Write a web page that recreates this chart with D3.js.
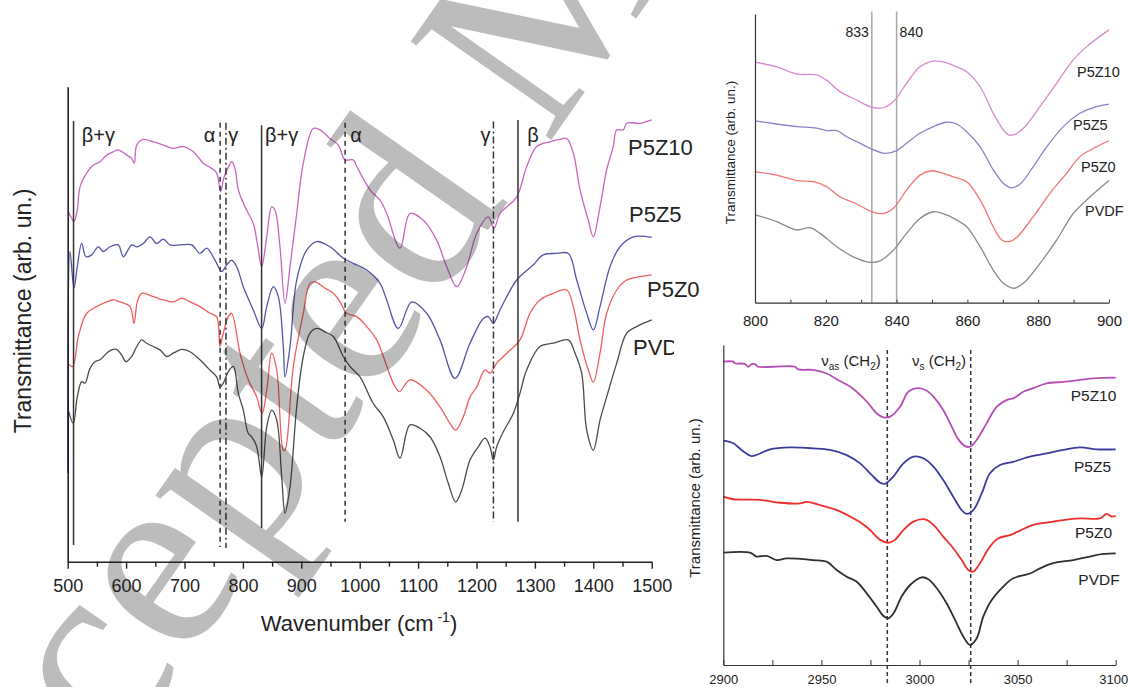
<!DOCTYPE html>
<html>
<head>
<meta charset="utf-8">
<script src="https://cdn.jsdelivr.net/npm/d3@7"></script>
<style>
  body { margin: 0; background: #fff; }
  svg { display: block; }
  text { font-family: "Liberation Sans", Arial, sans-serif; fill: #222; }
</style>
</head>
<body>
<svg id="fig" width="1129" height="687"></svg>
<script>
// ---------- FTIR spectra, 500–1500 cm-1 (wavenumber, transmittance in arb. units) ----------
const fullP5Z10 = [[501,73.7],[506.8,72.3],[510.8,71.6],[516.4,74.0],[521.1,78.9],[532.5,81.8],[543.8,83.5],[555.3,84.2],[566.8,85.6],[578.1,86.3],[586.6,86.7],[601,85.6],[609.6,84.9],[614,83.9],[618.2,87.7],[629.5,88.9],[646.6,88.4],[663.7,87.7],[680.8,87.0],[697.9,87.4],[715.1,86.3],[732.2,83.9],[746.6,82.8],[755.1,81.8],[762,77.9],[766.4,80.4],[774,82.8],[780.8,84.2],[786.5,82.8],[792.1,78.3],[803.6,74.7],[817.8,71.2],[824.7,67.0],[832.2,62.1],[840.8,68.4],[849.3,74.7],[855,74.0],[863.5,66.3],[872.1,54.4],[880.7,62.1],[892.1,73.3],[903.4,83.9],[920.5,91.2],[932,90.9],[949.1,89.1],[963.4,87.7],[974.8,84.6],[989,84.6],[994.9,83.2],[1017.6,78.3],[1034.8,76.1],[1046.2,73.3],[1069,66.0],[1086.1,73.3],[1108.9,71.9],[1131.8,67.7],[1149,62.1],[1166.1,57.9],[1183.2,62.1],[1200.3,69.1],[1220.2,72.6],[1229.9,70.2],[1240.2,73.3],[1268.8,76.8],[1286,83.2],[1303.1,87.4],[1325.9,88.4],[1342.6,88.9],[1354.5,89.1],[1365.8,86.0],[1377.3,78.3],[1391.4,71.9],[1400,68.4],[1411.5,74.7],[1422.9,82.5],[1434.2,87.4],[1440.1,90.9],[1451.4,90.9],[1457.2,92.3],[1480,92.3],[1500,93.0]];
const fullP5Z5 = [[500,18.7],[503.9,65.3],[510.8,57.6],[516.4,62.1],[524,67.0],[531.3,64.2],[541.1,64.6],[552.4,66.3],[561,65.3],[572.4,66.3],[586.6,66.7],[595.2,64.2],[609.6,66.7],[618.2,66.3],[629.5,67.0],[640.9,68.4],[652.4,67.0],[663.7,67.9],[675.2,66.7],[692.3,66.7],[712.3,66.7],[726.5,64.9],[738,66.0],[752.2,63.5],[763.7,61.1],[772.3,62.5],[780.8,63.5],[789.4,62.1],[800.7,57.9],[817.8,53.0],[832.2,49.1],[840.8,53.7],[852.1,57.9],[860.6,55.8],[869.2,45.3],[872.1,38.9],[880.7,45.3],[892.1,59.3],[909.2,65.6],[926.4,67.4],[949.1,66.3],[971.9,63.9],[989,62.8],[1012,61.4],[1034.8,58.6],[1046.2,55.1],[1066.1,49.1],[1089,54.7],[1114.7,52.3],[1137.5,46.7],[1163.2,38.6],[1188.9,46.0],[1211.6,51.2],[1220.2,51.6],[1228.8,50.2],[1240.2,53.0],[1268.8,59.3],[1297.3,62.5],[1314.4,64.6],[1337.3,64.9],[1357.2,64.9],[1371.6,59.3],[1388.7,52.3],[1400,48.8],[1411.5,53.7],[1428.6,62.1],[1445.7,66.3],[1468.5,68.4],[1500,68.3]];
const fullP5Z0 = [[500,41.8],[508.6,41.1],[518.2,47.4],[532.5,52.3],[549.7,53.7],[566.8,54.7],[578.1,55.1],[589.6,54.7],[606.7,53.7],[613.5,50.2],[619.2,54.7],[626.7,56.5],[646.6,55.8],[663.7,55.1],[680.8,54.7],[695.2,55.5],[709.4,54.7],[726.5,53.7],[743.7,52.3],[755.1,51.6],[760.8,45.3],[766.4,48.1],[775,51.6],[780.8,52.3],[795,43.9],[809.2,38.3],[823.6,34.7],[832.7,31.2],[840.8,36.1],[849.3,43.9],[857.9,40.4],[869.2,23.5],[872.1,23.5],[886.3,41.1],[903.4,52.3],[914.9,58.6],[923.5,58.9],[940.6,57.6],[954.8,56.5],[966.3,54.7],[977.7,52.3],[994.9,51.6],[1012,49.5],[1029.1,46.7],[1057.5,37.6],[1067.8,35.8],[1086.1,38.3],[1114.7,36.1],[1137.5,32.6],[1154.6,29.1],[1164.4,27.7],[1177.4,30.5],[1188.9,34.7],[1200.3,36.8],[1214.6,40.4],[1223.1,39.7],[1234.6,41.8],[1251.7,43.9],[1274.5,46.7],[1291.6,52.3],[1308.7,55.1],[1331.5,56.5],[1354.5,57.2],[1365.8,53.7],[1377.3,46.7],[1391.4,40.4],[1400,37.8],[1411.5,43.9],[1422.9,52.3],[1440.1,57.2],[1457.2,59.3],[1480,60.0],[1500,60.4]];
const fullPVDF = [[501,31.9],[509.6,29.1],[516.4,34.7],[524,37.9],[529.6,37.6],[538.2,40.7],[546.7,42.1],[555.3,42.5],[566.8,43.9],[575.3,44.6],[583.9,44.7],[592.5,43.5],[599.8,42.1],[609.6,43.2],[618.2,45.3],[626.7,46.7],[635.3,46.0],[646.6,45.3],[658,44.6],[669.5,43.2],[680.8,43.9],[695.2,44.7],[709.4,44.2],[726.5,42.5],[740.8,40.7],[755.1,38.9],[760.8,36.8],[766.4,37.6],[775,40.0],[783.6,41.1],[792.1,35.5],[800.7,31.9],[809.2,27.0],[815.1,26.3],[823.6,24.2],[832.2,17.9],[840.8,28.4],[849.3,31.9],[857.9,29.8],[866.4,17.9],[872.1,10.2],[880.7,15.8],[892.1,32.6],[903.4,43.2],[914.9,48.1],[926.4,49.1],[940.6,48.4],[954.8,47.4],[971.9,43.2],[983.4,41.1],[1000.5,38.9],[1023.3,33.3],[1040.4,30.5],[1057.5,25.6],[1069,21.8],[1086.1,28.8],[1103.3,28.1],[1120.4,26.3],[1137.5,22.1],[1151.7,16.5],[1164.4,12.6],[1174.7,15.1],[1188.9,21.4],[1203.1,24.2],[1214.6,26.0],[1223.1,24.2],[1228.8,21.4],[1234.6,24.2],[1246.1,27.4],[1263,31.2],[1274.5,35.5],[1286,40.4],[1308.7,45.3],[1331.5,46.0],[1357.2,46.7],[1368.7,43.9],[1380.1,39.7],[1388.7,27.7],[1400,23.5],[1411.5,29.8],[1422.9,34.7],[1440.1,41.8],[1457.2,48.1],[1474.3,49.5],[1500,50.9]];

// ---------- Zoom on 800–900 cm-1 ----------
const zoomP5Z10 = [[800,83.3],[806.1,81.7],[811.8,79.2],[817.4,78.9],[820.2,77.1],[824,73.1],[828.7,70.2],[833,67.7],[836.7,67.7],[839.5,70.2],[842.8,76.0],[846.6,81.7],[850.4,83.7],[854.1,83.1],[857,81.7],[859.8,80.0],[863.6,74.8],[867.3,65.6],[870.2,59.8],[871.6,58.1],[873,58.1],[875.8,60.4],[880.5,67.9],[885.2,76.0],[889.9,84.1],[893.7,88.7],[900,94.5]];
const zoomP5Z5 = [[800,63.0],[806.1,61.9],[811.8,61.0],[817.4,60.5],[820.2,59.6],[823.1,59.6],[825.9,57.5],[829.7,55.2],[833,53.2],[836.7,51.7],[840,52.7],[842.8,55.2],[846.6,58.7],[850.4,61.0],[854.1,62.5],[857,61.9],[859.8,59.2],[863.6,54.0],[867.3,46.0],[870.2,41.3],[872.5,39.8],[874.9,41.1],[878.6,47.1],[882.4,54.0],[887.1,61.0],[891.8,65.6],[896.5,67.9],[900,68.8]];
const zoomP5Z0 = [[800,45.4],[806.1,44.2],[811.8,42.3],[816.5,41.9],[820.2,40.2],[824,36.7],[828.7,34.2],[833,31.5],[836.3,30.9],[839.1,32.7],[842.8,39.0],[846.6,44.2],[849.9,45.7],[853.2,44.8],[856,43.6],[859.8,41.9],[863.6,35.6],[867.3,26.3],[869.7,21.7],[871.6,21.1],[873.9,22.6],[878.6,29.8],[883.3,37.9],[888,44.8],[891.8,50.6],[896.5,54.0],[900,56.1]];
const zoomPVDF = [[800,30.4],[806.1,28.1],[811.8,25.2],[815.5,26.0],[818.4,24.0],[823.1,19.4],[827.8,15.9],[832.5,14.0],[835.3,14.5],[839.1,18.2],[842.8,24.0],[846.6,29.2],[850.4,31.5],[854.1,30.4],[857,28.6],[859.8,26.3],[863.6,19.4],[867.3,11.3],[870.2,6.7],[873,5.0],[875.8,6.7],[880.5,13.6],[885.2,21.7],[889.9,30.9],[893.7,35.6],[900,42.3]];

// ---------- C–H stretching region, 2900–3100 cm-1 ----------
const chP5Z10 = [[2900,94.8],[2905.1,94.8],[2905.9,94.3],[2911,94.1],[2912.7,93.2],[2914.4,94.0],[2916.1,94.0],[2917.8,93.2],[2925.5,93.2],[2936.5,93.2],[2938.2,92.4],[2945.9,92.2],[2952.7,91.1],[2957.8,89.3],[2964.6,87.0],[2969.7,84.4],[2973.9,81.8],[2978.2,78.6],[2981.6,77.4],[2985,77.6],[2990.1,80.7],[2994.3,85.4],[2999.4,86.5],[3003.7,85.7],[3007.1,83.9],[3012.1,79.7],[3016.4,74.5],[3019.8,70.5],[3023.2,68.4],[3025.7,68.2],[3029.1,70.3],[3034.2,75.5],[3039.3,80.7],[3045.3,83.0],[3047.8,83.3],[3052.9,85.4],[3058,86.5],[3064.8,88.0],[3073.3,88.5],[3081.8,89.1],[3088.6,89.6],[3100,89.8]];
const chP5Z5 = [[2900,70.1],[2905.1,69.3],[2909.3,67.2],[2914.4,65.3],[2918.7,66.1],[2923.8,67.4],[2934,68.0],[2945.9,67.7],[2954.4,67.2],[2962.9,65.6],[2969.7,63.0],[2975.6,59.4],[2979.9,57.0],[2982.4,56.6],[2986.7,58.9],[2991.8,63.0],[2996.9,65.1],[3002,64.6],[3007.1,62.0],[3012.1,57.8],[3017.2,52.6],[3021.5,48.4],[3024,47.2],[3027.4,48.4],[3031.7,53.6],[3035.9,59.9],[3041,62.5],[3047.8,63.5],[3056.3,65.1],[3064.8,66.1],[3073.3,67.2],[3081.8,68.0],[3090.3,67.4],[3100,67.4]];
const chP5Z0 = [[2900,52.6],[2905.1,51.8],[2918.7,51.6],[2928.9,50.7],[2939.1,50.5],[2942.5,51.0],[2949.3,50.0],[2957.8,48.4],[2964.6,46.4],[2970.5,44.3],[2974.8,42.2],[2979.9,39.1],[2984.1,38.2],[2987.5,39.1],[2991.8,42.2],[2996.9,44.8],[3002.8,45.5],[3007.1,43.8],[3012.1,40.1],[3017.2,36.5],[3021.5,32.8],[3024.9,29.7],[3027.4,29.2],[3030.8,31.8],[3035.9,37.0],[3040.2,39.6],[3046.1,40.6],[3051.2,42.0],[3058,43.8],[3064.8,44.5],[3073.3,45.3],[3081.8,45.8],[3092,45.8],[3095.4,47.2],[3098,46.4],[3100,46.6]];
const chPVDF = [[2900,35.1],[2913.6,35.1],[2917,33.9],[2922.1,34.1],[2927.2,32.8],[2932.3,33.3],[2945.9,32.8],[2952.7,32.3],[2957.8,29.7],[2962.9,27.6],[2968,26.0],[2973.1,22.4],[2978.2,18.2],[2981.6,15.3],[2984.1,14.6],[2986.7,16.1],[2990.9,21.4],[2995.2,25.0],[3001.1,27.4],[3004.5,26.8],[3008.8,24.0],[3013.8,19.3],[3018.1,14.1],[3022.3,8.9],[3025.7,6.3],[3029.1,8.3],[3032.5,15.1],[3036.8,20.3],[3042.7,24.5],[3047.8,27.1],[3056.3,28.6],[3061.4,30.2],[3068.2,31.8],[3078.4,32.8],[3086.9,33.9],[3093.7,34.7],[3100,34.9]];

// ---------- Axis ticks and labels ----------
const fullMajorTicks = [500, 600, 700, 800, 900, 1000, 1100, 1200, 1300, 1400, 1500];
const fullMinorTicks = [550, 650, 750, 850, 950, 1050, 1150, 1250, 1350, 1450];
const zoomMajorTicks = [800, 820, 840, 860, 880, 900];
const zoomMinorTicks = [810, 830, 850, 870, 890];
const chMajorTicks = [2900, 2950, 3000, 3050, 3100];
const chMinorTicks = [2925, 2975, 3025, 3075];

const sampleNames = ["P5Z10", "P5Z5", "P5Z0", "PVDF"];

// Band assignments marked on the full spectrum
const bandWavenumbers = [510, 761, 771, 832, 975, 1229, 1271];
const bandStyles = ["solid", "dash", "dashdot", "solid", "dash", "dashdot", "solid"];
const bandLabels = ["β+γ", "α", "γ", "β+γ", "α", "γ", "β"];
const bandLabelWavenumbers = [524, 733, 775, 838, 984, 1207, 1287];

const zoomMarkers = [833, 840];
const chMarkers = [2983.6, 3026.1];

// ---------- Drawing ----------
const svg = d3.select("#fig");
const dashFor = { solid: null, dash: "5,4", dashdot: "7,3,2,3" };

function drawLine(g, x, y, data, color, width) {
  g.append("path")
    .datum(data)
    .attr("fill", "none")
    .attr("stroke", color)
    .attr("stroke-width", width)
    .attr("stroke-linejoin", "round")
    .attr("d", d3.line().x(d => x(d[0])).y(d => y(d[1])).curve(d3.curveCatmullRom.alpha(0.5)));
}

// ===== Full spectrum panel =====
const xF = d3.scaleLinear().domain([500, 1500]).range([67.7, 651.7]);
const yF = d3.scaleLinear().domain([0, 100]).range([561.7, 86.7]);
const gF = svg.append("g");

const fullColors = ["#c865c0", "#5454aa", "#f25c5c", "#4a4a4a"];
[fullP5Z10, fullP5Z5, fullP5Z0, fullPVDF].forEach((s, i) => drawLine(gF, xF, yF, s, fullColors[i], 1.3));

// vertical band lines
const bandTop = [92.8, 92.4, 92.4, 91.9, 92.4, 92.7, 93.0];
const bandBottom = [3.5, 3.1, 2.9, 7.1, 8.4, 8.4, 8.4];
bandWavenumbers.forEach((w, i) => {
  gF.append("line")
    .attr("x1", xF(w)).attr("x2", xF(w))
    .attr("y1", yF(bandTop[i])).attr("y2", yF(bandBottom[i]))
    .attr("stroke", "#333").attr("stroke-width", 1.5)
    .attr("stroke-dasharray", dashFor[bandStyles[i]]);
});
bandLabels.forEach((t, i) => {
  gF.append("text")
    .attr("x", xF(bandLabelWavenumbers[i])).attr("y", 142)
    .attr("font-size", 20).attr("fill", "#222")
    .text(t);
});

// axes
const axF = gF.append("g").attr("transform", `translate(0,${yF(0)})`)
  .call(d3.axisBottom(xF).tickValues(fullMajorTicks).tickSize(7).tickSizeOuter(0).tickPadding(11).tickFormat(d3.format("d")));
gF.append("g").attr("transform", `translate(0,${yF(0)})`)
  .call(d3.axisBottom(xF).tickValues(fullMinorTicks).tickSize(5).tickFormat(""))
  .call(g => g.select(".domain").remove());
gF.append("g").attr("transform", `translate(${xF(500)},0)`)
  .call(d3.axisLeft(yF).tickValues([]).tickSizeOuter(0));
gF.selectAll(".domain").attr("stroke", "#222").attr("stroke-width", 1.6);
gF.selectAll(".tick line").attr("stroke", "#222").attr("stroke-width", 1.4);
axF.selectAll(".tick text").attr("font-size", 18).attr("fill", "#222")
  .style("font-family", "'Liberation Sans', Arial, sans-serif");

gF.append("text").attr("x", 359).attr("y", 631).attr("text-anchor", "middle")
  .attr("font-size", 22)
  .call(t => {
    t.append("tspan").text("Wavenumber (cm");
    t.append("tspan").attr("font-size", 14).attr("dy", -9).text(" -1");
    t.append("tspan").attr("dy", 9).text(")");
  });
gF.append("text").attr("transform", "translate(31,311) rotate(-90)")
  .attr("text-anchor", "middle").attr("font-size", 23)
  .text("Transmittance (arb. un.)");

const fullLabelPos = [[628, 155], [629, 221.5], [647, 297], [633, 355]];
sampleNames.forEach((n, i) => {
  gF.append("text").attr("x", fullLabelPos[i][0]).attr("y", fullLabelPos[i][1])
    .attr("font-size", 22).attr("fill", "#222").text(n);
});

// ===== Zoom 800–900 panel =====
const xZ = d3.scaleLinear().domain([800, 900]).range([755, 1109]);
const yZ = d3.scaleLinear().domain([0, 100]).range([302.7, 14]);
const gZ = svg.append("g");

zoomMarkers.forEach(w => {
  gZ.append("line").attr("x1", xZ(w)).attr("x2", xZ(w))
    .attr("y1", 11.5).attr("y2", yZ(0))
    .attr("stroke", "#a8a8a8").attr("stroke-width", 1.5);
});
gZ.append("text").attr("x", xZ(833) - 3).attr("y", 37).attr("text-anchor", "end")
  .attr("font-size", 14).attr("fill", "#333").text("833");
gZ.append("text").attr("x", xZ(840) + 3).attr("y", 37)
  .attr("font-size", 14).attr("fill", "#333").text("840");

const zoomColors = ["#d58ccd", "#8585c8", "#f27575", "#8a8a8a"];
[zoomP5Z10, zoomP5Z5, zoomP5Z0, zoomPVDF].forEach((s, i) => drawLine(gZ, xZ, yZ, s, zoomColors[i], 1.3));

const axZ = gZ.append("g").attr("transform", `translate(0,${yZ(0)})`)
  .call(d3.axisBottom(xZ).tickValues(zoomMajorTicks).tickSize(0).tickSizeOuter(0).tickPadding(13).tickFormat(d3.format("d")));
gZ.append("g").attr("transform", `translate(0,${yZ(0)})`)
  .call(d3.axisBottom(xZ).tickValues(zoomMajorTicks.concat(zoomMinorTicks)).tickSize(-3).tickFormat(""))
  .call(g => g.select(".domain").remove());
gZ.append("g").attr("transform", `translate(${xZ(800)},0)`)
  .call(d3.axisLeft(yZ).tickValues([]).tickSizeOuter(0));
gZ.selectAll(".domain").attr("stroke", "#333").attr("stroke-width", 1.2);
gZ.selectAll(".tick line").attr("stroke", "#333");
axZ.selectAll(".tick text").attr("font-size", 15).attr("fill", "#222")
  .style("font-family", "'Liberation Sans', Arial, sans-serif");
gZ.append("text").attr("transform", "translate(735,152.5) rotate(-90)")
  .attr("text-anchor", "middle").attr("font-size", 13.5).attr("fill", "#333")
  .text("Transmittance (arb. un.)");
const zoomLabelPos = [[1077, 76.5], [1073, 130], [1081, 172.3], [1085, 216]];
sampleNames.forEach((n, i) => {
  gZ.append("text").attr("x", zoomLabelPos[i][0]).attr("y", zoomLabelPos[i][1])
    .attr("font-size", 14.5).attr("fill", "#333").text(n);
});

// ===== C–H stretching panel (covers the right edge of the full panel) =====
const gC = svg.append("g");
gC.append("rect").attr("x", 674).attr("y", 336).attr("width", 455).attr("height", 351).attr("fill", "#fff");
const xC = d3.scaleLinear().domain([2900, 3100]).range([723.3, 1115.7]);
const yC = d3.scaleLinear().domain([0, 100]).range([665, 345]);

chMarkers.forEach(w => {
  gC.append("line").attr("x1", xC(w)).attr("x2", xC(w))
    .attr("y1", 350).attr("y2", 684)
    .attr("stroke", "#333").attr("stroke-width", 1.5).attr("stroke-dasharray", "4,3");
});

const chColors = ["#b44fb4", "#3c3ca0", "#ef2d2d", "#2f2f2f"];
[chP5Z10, chP5Z5, chP5Z0, chPVDF].forEach((s, i) => drawLine(gC, xC, yC, s, chColors[i], 1.8));

const axC = gC.append("g").attr("transform", `translate(0,${yC(0)})`)
  .call(d3.axisBottom(xC).tickValues(chMajorTicks).tickSize(0).tickSizeOuter(0).tickPadding(9.5).tickFormat(d3.format("d")));
gC.append("g").attr("transform", `translate(0,${yC(0)})`)
  .call(d3.axisBottom(xC).tickValues(chMajorTicks.concat(chMinorTicks)).tickSize(-5).tickFormat(""))
  .call(g => g.select(".domain").remove());
gC.append("g").attr("transform", `translate(${xC(2900)},0)`)
  .call(d3.axisLeft(yC).tickValues([]).tickSizeOuter(0));
gC.selectAll(".domain").attr("stroke", "#333").attr("stroke-width", 1.2);
gC.selectAll(".tick line").attr("stroke", "#333");
axC.selectAll(".tick text").attr("font-size", 13).attr("fill", "#222")
  .style("font-family", "'Liberation Sans', Arial, sans-serif");
// keep the last label inside the figure's right edge
axC.selectAll(".tick text").filter(d => d === 3100)
  .attr("text-anchor", "end").attr("x", 12);
gC.append("text").attr("transform", "translate(700,498) rotate(-90)")
  .attr("text-anchor", "middle").attr("font-size", 15).attr("fill", "#333")
  .text("Transmittance (arb. un.)");

function nuLabel(x, sub) {
  const t = gC.append("text").attr("x", x).attr("y", 366).attr("text-anchor", "middle")
    .attr("font-size", 15).attr("fill", "#333");
  t.append("tspan").text("ν");
  t.append("tspan").attr("font-size", 10).attr("dy", 4).text(sub);
  t.append("tspan").attr("dy", -4).text(" (CH");
  t.append("tspan").attr("font-size", 10).attr("dy", 4).text("2");
  t.append("tspan").attr("dy", -4).text(")");
}
nuLabel(851, "as");
nuLabel(939, "s");

const chLabelPos = [[1070.7, 400.7], [1074, 471.7], [1075, 538.3], [1078.3, 585]];
sampleNames.forEach((n, i) => {
  gC.append("text").attr("x", chLabelPos[i][0]).attr("y", chLabelPos[i][1])
    .attr("font-size", 15.5).attr("fill", "#333").text(n);
});

// ===== Manuscript stamp over the full panel =====
svg.append("text")
  .attr("transform", "translate(-58,1010) rotate(-55)")
  .attr("font-size", 262)
  .style("font-family", "'Liberation Serif', 'Times New Roman', serif")
  .attr("fill", "#000").attr("fill-opacity", 0.3)
  .text("Accepted Manuscript");
</script>
</body>
</html>
